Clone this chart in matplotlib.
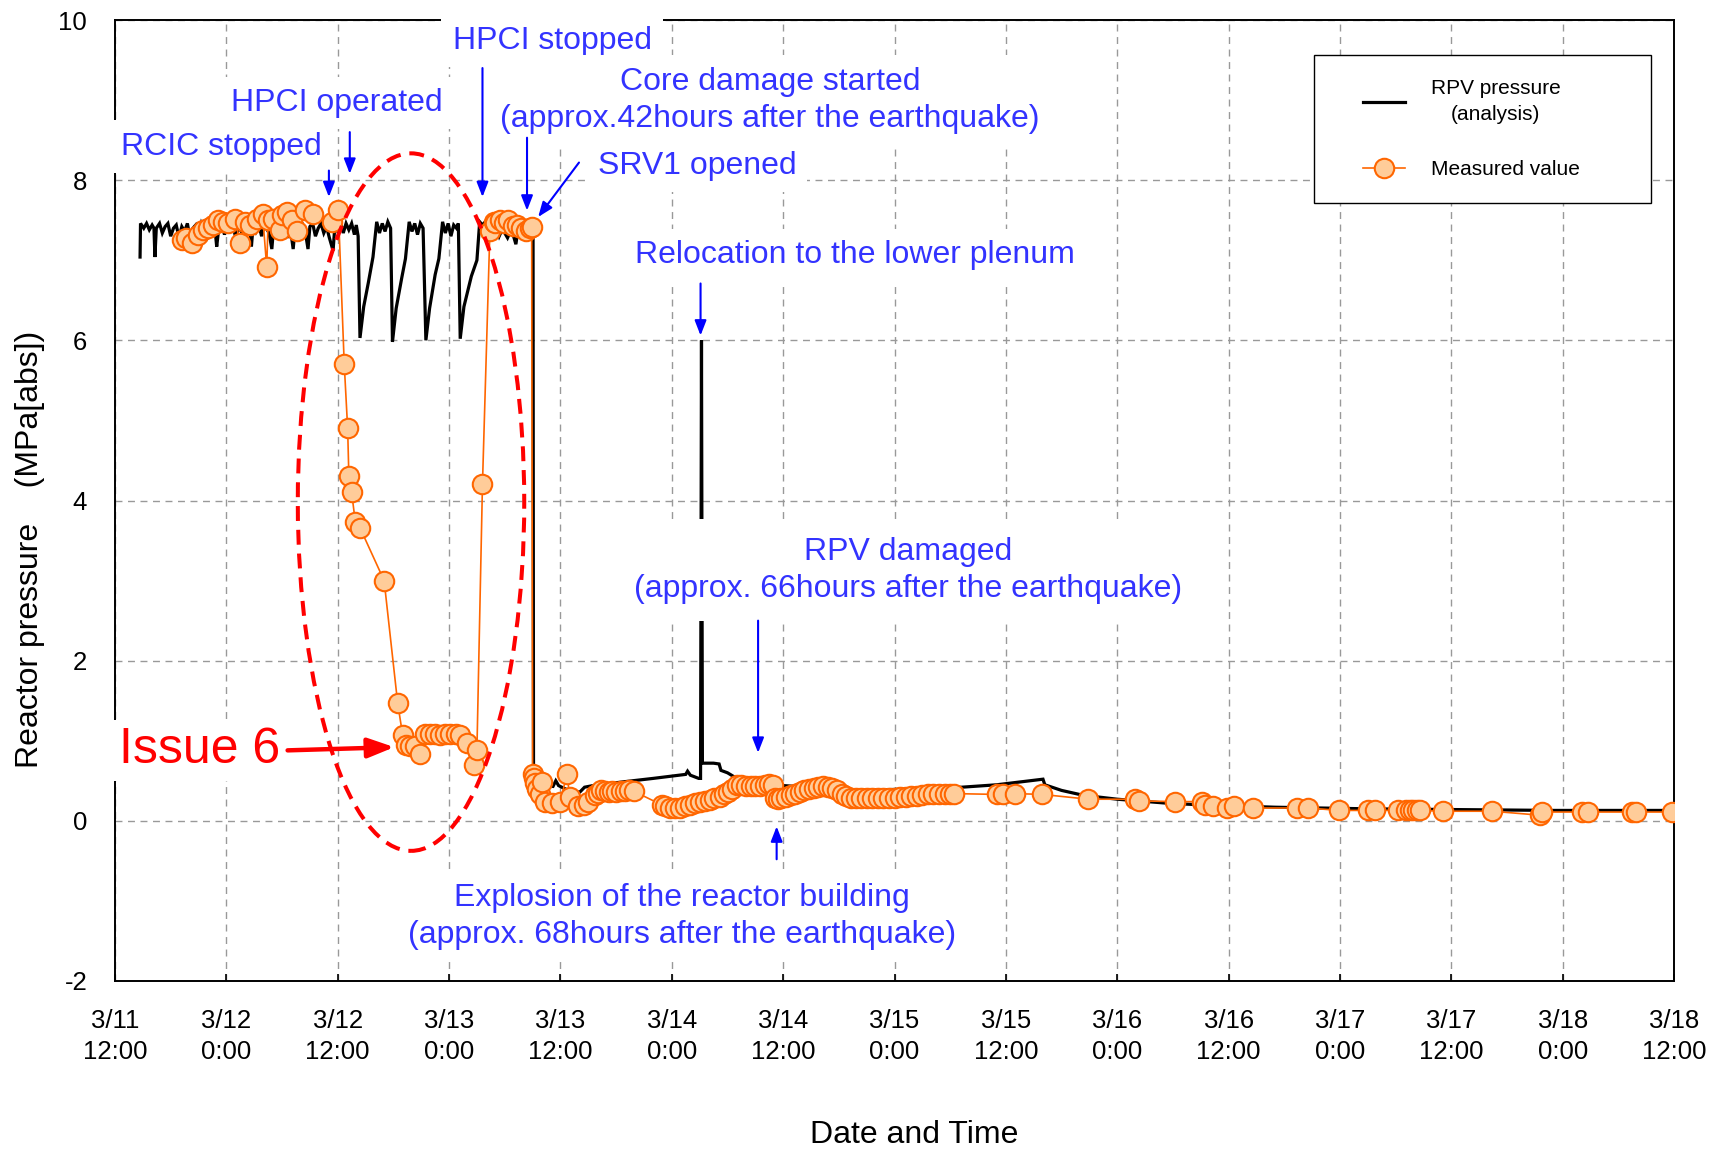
import matplotlib
matplotlib.use('Agg')
import matplotlib.pyplot as plt
from matplotlib.patches import Ellipse, Rectangle
from matplotlib.lines import Line2D

plt.rcParams['font.family'] = ['Liberation Sans', 'DejaVu Sans']
plt.rcParams['axes.unicode_minus'] = False

# ---------------- data (hours after 3/11 12:00, MPa[abs]) ----------------
analysis_hours = [
    2.7, 2.75, 3.1, 3.4, 3.7, 4.0, 4.2, 4.3, 4.45, 4.8, 5.1, 5.4, 5.7, 6.0, 6.3, 6.6,
    6.9, 7.2, 7.5, 7.8, 8.1, 8.4, 8.7, 9.0, 9.3, 9.6, 9.9, 10.2, 10.5, 10.8, 10.96,
    11.2, 11.5, 11.8, 12.1, 12.4, 12.7, 13.0, 13.3, 13.6, 13.9, 14.2, 14.5, 14.7,
    14.9, 15.2, 15.5, 15.8, 16.1, 16.4, 16.6, 16.9, 17.1, 17.4, 17.7, 18.0, 18.3,
    18.6, 18.9, 19.2, 19.4, 19.7, 20.0, 20.3, 20.5, 20.8, 21.0, 21.3, 21.6, 21.9,
    22.2, 22.5, 22.8, 23.1, 23.5, 23.7, 24.0, 24.3, 24.6, 24.9, 25.2, 25.5, 25.8,
    26.0, 26.2, 26.4, 26.8, 27.3, 27.8, 28.2, 28.5, 28.8, 29.1, 29.4, 29.7, 29.9,
    30.3, 30.9, 31.3, 31.7, 32.0, 32.3, 32.6, 32.9, 33.2, 33.5, 33.9, 34.5, 34.9,
    35.3, 35.6, 35.9, 36.2, 36.5, 36.8, 37.0, 37.2, 37.6, 38.4, 39.0, 39.3, 39.6,
    39.9, 40.2, 40.5, 40.8, 41.1, 41.4, 41.7, 42.0, 42.3, 42.6, 42.9, 43.2, 43.4,
    43.7, 44.0, 44.3, 44.6, 44.9, 45.05,
    45.1, 45.4, 45.8, 46.6, 47.2, 47.5, 47.8, 48.5, 49.4, 50.1, 50.6, 51.5, 55.0,
    58.0, 61.5, 61.7, 62.0, 62.9, 63.1, 63.2, 63.3, 64.5, 65.1, 65.3, 66.0, 67.0,
    68.0, 70.0, 72.0, 80.0, 90.0, 95.0, 100.0, 100.2, 102.0, 104.3, 108.0, 113.4,
    117.0, 125.0, 135.0, 145.0, 155.0, 168.0]
analysis_mpa = [
    7.04, 7.46, 7.40, 7.46, 7.38, 7.44, 7.40, 7.04, 7.40, 7.46, 7.34, 7.42, 7.46,
    7.30, 7.40, 7.44, 7.28, 7.42, 7.36, 7.46, 7.26, 7.40, 7.44, 7.32, 7.46, 7.38,
    7.30, 7.44, 7.48, 7.36, 7.17,
    7.42, 7.46, 7.32, 7.44, 7.38, 7.46, 7.28, 7.42, 7.36, 7.46, 7.34, 7.42, 7.17,
    7.46, 7.36, 7.44, 7.30, 7.46, 7.38, 7.34, 7.14, 7.42, 7.46, 7.32, 7.40, 7.46,
    7.28, 7.40, 7.14, 7.40, 7.46, 7.30, 7.42, 7.36, 7.14, 7.42, 7.46, 7.30, 7.40,
    7.46, 7.34, 7.42, 7.28, 7.12, 7.44, 7.36, 7.48, 7.34, 7.46, 7.38, 7.46, 7.32,
    7.44, 7.30, 6.03, 6.42, 6.72, 7.04, 7.48, 7.34, 7.46, 7.36, 7.48, 7.40, 5.98,
    6.40, 6.78, 7.02, 7.48, 7.36, 7.46, 7.32, 7.46, 7.40, 6.00, 6.40, 6.82, 7.02,
    7.48, 7.34, 7.46, 7.30, 7.44, 7.40, 7.46, 6.02, 6.42, 6.80, 7.00, 7.48, 7.44,
    7.48, 7.40, 7.44, 7.36, 7.40, 7.30, 7.38, 7.34, 7.28, 7.36, 7.32, 7.20, 7.36,
    7.30, 7.36, 7.28, 7.34, 7.30, 7.36,
    0.65, 0.60, 0.48, 0.44, 0.43, 0.50, 0.44, 0.40, 0.36, 0.36, 0.42, 0.44, 0.49,
    0.53, 0.58, 0.62, 0.57, 0.53, 0.53, 6.00, 0.72, 0.72, 0.71, 0.63, 0.60, 0.53,
    0.50, 0.46, 0.44, 0.38, 0.41, 0.45, 0.52, 0.45, 0.38, 0.32, 0.27, 0.22,
    0.20, 0.17, 0.15, 0.14, 0.13, 0.13]

measured_hours = [
    7.2, 7.65, 8.26, 8.98, 9.52, 10.06, 10.6, 11.13, 11.67, 12.2, 12.93, 13.47,
    14.0, 14.55, 15.27, 15.9, 16.35, 16.5, 17.06, 17.78, 17.96, 18.5, 19.04, 19.6,
    20.5, 21.37, 23.35, 24.07,
    24.7, 25.07, 25.2, 25.5, 25.9, 26.4, 29.0, 30.46, 31.0, 31.4, 31.8, 32.3, 32.9,
    33.4, 33.9, 34.5, 35.0, 35.6, 36.1, 36.8, 37.2, 37.9, 38.7, 39.0, 39.6,
    40.4, 40.8, 41.0, 41.5, 41.9, 42.4, 42.9, 43.3, 43.8, 44.3, 44.7, 44.9,
    45.0, 45.1, 45.3, 45.5, 45.8, 46.0, 46.3, 47.1, 48.0, 48.7, 49.0, 49.9, 50.5,
    51.0, 51.7, 52.0, 52.4, 52.8, 53.2, 53.6, 54.0, 54.5, 55.0, 55.4, 55.9,
    58.9, 59.3, 59.8, 60.3, 60.9, 61.4, 62.0, 62.5, 63.0, 63.6, 64.1, 64.6, 65.2,
    65.6, 66.1, 66.5, 67.0, 67.5, 68.0, 68.5, 69.0, 69.5, 70.0, 70.5, 70.9, 71.1,
    71.4, 71.8, 72.3, 72.8, 73.3, 73.8, 74.3, 74.8, 75.3, 75.8, 76.3, 76.8, 77.3,
    77.8, 78.3, 78.8, 79.3, 79.8, 80.4, 81.0, 81.6, 82.2, 82.8, 83.4, 84.0, 84.6,
    85.2, 85.8, 86.4, 87.0, 87.6, 88.2, 88.8, 89.4, 90.0, 90.4,
    95.0, 95.7, 97.0, 99.9, 104.9, 109.9, 110.3, 114.2, 117.1, 117.5, 118.3,
    119.8, 120.6, 122.6, 127.4, 128.6, 131.9, 135.0, 135.8, 138.3, 139.1, 139.5,
    139.9, 140.3, 140.6, 143.1, 148.4, 153.6, 153.8, 158.1, 158.7, 163.5, 163.9,
    167.8]
measured_mpa = [
    7.25, 7.28, 7.21, 7.31, 7.38, 7.40, 7.44, 7.50, 7.48, 7.46, 7.52, 7.21,
    7.48, 7.44, 7.52, 7.58, 6.91, 7.50, 7.52, 7.38, 7.56, 7.60, 7.50, 7.36,
    7.63, 7.58, 7.48, 7.63,
    5.71, 4.90, 4.31, 4.10, 3.73, 3.66, 3.00, 1.47, 1.07, 0.95, 0.93, 0.93, 0.83,
    1.09, 1.09, 1.08, 1.07, 1.08, 1.08, 1.08, 1.07, 0.97, 0.70, 0.88, 4.21,
    7.37, 7.48, 7.46, 7.50, 7.46, 7.50, 7.43, 7.44, 7.40, 7.36, 7.40, 7.42,
    0.59, 0.53, 0.47, 0.40, 0.34, 0.49, 0.24, 0.22, 0.24, 0.59, 0.30, 0.18, 0.20,
    0.24, 0.32, 0.35, 0.38, 0.37, 0.36, 0.37, 0.36, 0.37, 0.37, 0.38, 0.37,
    0.20, 0.18, 0.16, 0.16, 0.16, 0.18, 0.20, 0.22, 0.24, 0.25, 0.26, 0.28, 0.30,
    0.33, 0.36, 0.40, 0.45, 0.45, 0.44, 0.43, 0.43, 0.44, 0.45, 0.46, 0.45, 0.28,
    0.27, 0.28, 0.30, 0.32, 0.34, 0.36, 0.38, 0.40, 0.41, 0.42, 0.43, 0.42, 0.41,
    0.38, 0.34, 0.31, 0.29, 0.28, 0.28, 0.28, 0.28, 0.28, 0.28, 0.29, 0.29, 0.30,
    0.30, 0.31, 0.31, 0.32, 0.33, 0.33, 0.34, 0.34, 0.34, 0.34,
    0.33, 0.33, 0.34, 0.33, 0.27, 0.27, 0.25, 0.24, 0.24, 0.20, 0.18,
    0.16, 0.18, 0.16, 0.16, 0.16, 0.13, 0.13, 0.13, 0.13, 0.13, 0.13,
    0.13, 0.13, 0.13, 0.12, 0.12, 0.07, 0.11, 0.11, 0.11, 0.11, 0.11,
    0.11]

tick_hours = [0, 12, 24, 36, 48, 60, 72, 84, 96, 108, 120, 132, 144, 156, 168]
tick_labels = ['3/11\n12:00', '3/12\n0:00', '3/12\n12:00', '3/13\n0:00', '3/13\n12:00',
               '3/14\n0:00', '3/14\n12:00', '3/15\n0:00', '3/15\n12:00', '3/16\n0:00',
               '3/16\n12:00', '3/17\n0:00', '3/17\n12:00', '3/18\n0:00', '3/18\n12:00']
ytick_values = [-2, 0, 2, 4, 6, 8, 10]

# ---------------- figure ----------------
W, H = 1720, 1154
fig = plt.figure(figsize=(W / 100, H / 100), dpi=100)
ax = fig.add_axes([115 / W, 1 - 981 / H, (1674 - 115) / W, (981 - 20) / H])

ORANGE = '#FF6600'
PEACH = '#FFCC99'
BLUE_TXT = '#3333FF'
BLUE_ARR = '#0000FF'
RED = '#FF0000'
MS = 14

ax.plot(analysis_hours, analysis_mpa, color='black', lw=2.3, zorder=3,
        solid_joinstyle='miter')
ax.plot(measured_hours, measured_mpa, color=ORANGE, lw=1.2, marker='o', ms=MS,
        mfc=PEACH, mec=ORANGE, mew=1.5, zorder=4)

ax.set_xlim(0, 168)
ax.set_ylim(-2, 10)
ax.set_xticks(tick_hours)
ax.set_xticklabels(tick_labels, linespacing=1.4)
ax.set_yticks(ytick_values)
ax.grid(True, color='#999999', ls=(0, (5, 4)), lw=1.0, zorder=0)
ax.set_axisbelow(True)
ax.tick_params(axis='x', direction='in', length=5, width=1.2, labelsize=18.5, pad=20)
ax.tick_params(axis='y', direction='in', length=0, labelsize=18.5, pad=20)
for s in ax.spines.values():
    s.set_linewidth(1.4)
    s.set_color('black')

ax.set_ylabel('Reactor pressure    (MPa[abs])', fontsize=23)
ax.yaxis.label.set_va('center')
ax.yaxis.set_label_coords((30 - 115) / 1559, (981 - 549) / 961)
ax.set_xlabel('Date and Time', fontsize=23)
ax.xaxis.label.set_va('center')
ax.xaxis.set_label_coords((914 - 115) / 1559, (981 - 1135) / 961)

# ---------------- legend ----------------
frame = Rectangle((1314 / W, 1 - 203 / H), (1651 - 1314) / W, (203 - 55) / H,
                  transform=fig.transFigure, facecolor='white', edgecolor='black',
                  lw=1.0, zorder=8, clip_on=False)
ax.add_patch(frame)
handles = [Line2D([], [], color='black', lw=2.3),
           Line2D([], [], color=ORANGE, lw=1.2, marker='o', ms=MS, mfc=PEACH,
                  mec=ORANGE, mew=1.5)]
leg = ax.legend(handles, ['RPV pressure\n(analysis)', 'Measured value'],
                loc='upper left', bbox_to_anchor=(1363 / W, 1 - 79 / H),
                bbox_transform=fig.transFigure, frameon=False, borderpad=0,
                borderaxespad=0, fontsize=15, handlelength=2.0, handletextpad=1.25,
                labelspacing=1.75)
for t in leg.get_texts():
    t.set_multialignment('center')
    t.set_linespacing(1.45)
leg.set_zorder(9)

# ---------------- annotations ----------------
def note(text, x, y, pad=0.35, color=BLUE_TXT, size=23):
    ax.text(x, y, text, color=color, fontsize=size, ha='center', va='center',
            multialignment='center', linespacing=1.3, zorder=6, clip_on=False,
            bbox=dict(boxstyle=f'square,pad={pad}', fc='white', ec='none'))


def arrow(x0, y0, x1, y1, color=BLUE_ARR, lw=1.5, style='-|>,head_length=0.9,head_width=0.35'):
    ax.annotate('', xy=(x1, y1), xytext=(x0, y0), zorder=7, annotation_clip=False,
                arrowprops=dict(arrowstyle=style, color=color, lw=lw,
                                shrinkA=0, shrinkB=0))


note('RCIC stopped', 11.5, 8.42)
note('HPCI operated', 23.9, 8.96)
note('HPCI stopped', 47.1, 9.74)
note('Core damage started\n(approx.42hours after the earthquake)', 70.6, 9.0)
note('SRV1 opened', 62.7, 8.18)
note('Relocation to the lower plenum', 79.7, 7.06)
note('RPV damaged\n(approx. 66hours after the earthquake)', 85.5, 3.13, pad=0.55)
note('Explosion of the reactor building\n(approx. 68hours after the earthquake)', 61.1, -1.20)
note('Issue 6', 9.16, 0.88, pad=0.15, color=RED, size=36)

arrow(23.05, 8.12, 23.05, 7.79)
arrow(25.3, 8.60, 25.3, 8.08)
arrow(39.6, 9.40, 39.6, 7.79)
arrow(44.4, 8.53, 44.4, 7.62)
arrow(50.0, 8.22, 45.6, 7.54)
arrow(63.1, 6.71, 63.1, 6.06)
arrow(69.3, 2.50, 69.3, 0.85)
arrow(71.3, -0.48, 71.3, -0.07)
arrow(18.6, 0.88, 30.1, 0.92, color=RED, lw=3.2,
      style='-|>,head_length=1.6,head_width=0.6')

ax.add_patch(Ellipse((31.9, 3.98), 24.4, 8.71, fill=False, edgecolor=RED, lw=2.9,
                     ls=(0, (3.7, 2.2)), zorder=5))

fig.savefig('out.png', dpi=100)
